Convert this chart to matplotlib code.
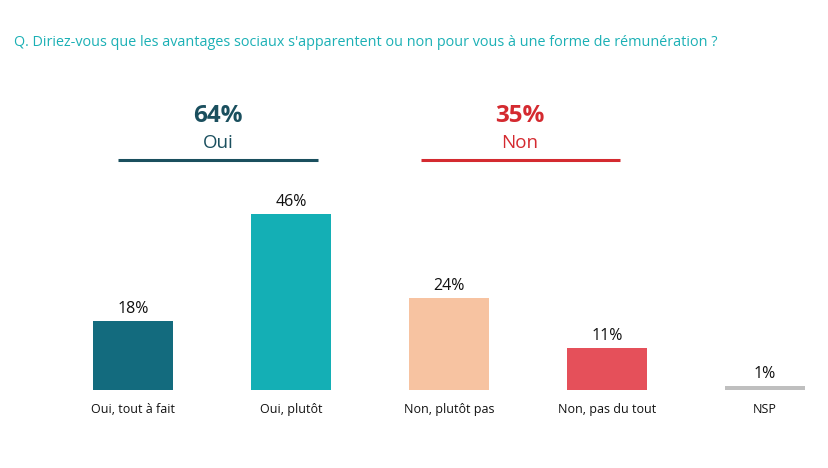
import matplotlib.pyplot as plt
import numpy as np

plt.rcParams['font.family'] = ['Open Sans', 'DejaVu Sans']

categories = ["Oui, tout à fait", "Oui, plutôt", "Non, plutôt pas", "Non, pas du tout", "NSP"]
values = [18, 46, 24, 11, 1]
colors = ["#136B7E", "#14AFB5", "#F7C3A1", "#E5505A", "#BFBFBF"]

groups = ["Oui", "Non"]
group_totals = ["64%", "35%"]
group_colors = ["#1A4F5E", "#D42A30"]
group_spans = [(-0.095, 1.17), (1.82, 3.08)]

title = "Q. Diriez-vous que les avantages sociaux s'apparentent ou non pour vous à une forme de rémunération ?"

W, H = 829, 468
fig = plt.figure(figsize=(W / 100, H / 100), dpi=100)
# bar centres at 133 + 158*i px, baseline at y=390 px from top
step = 158.0
left_px = 133 - step / 2
ax = fig.add_axes([left_px / W, (H - 390) / H, step * 4.9 / W, 230 / H])
ax.set_xlim(-0.5, 4.4)
ax.set_ylim(0, 60)
ax.axis("off")

x = np.arange(len(categories))
ax.bar(x, values, width=80 / step, color=colors)
for xi, v, c in zip(x, values, categories):
    ax.text(xi, v + 1.0, f"{v}%", ha="center", va="bottom", fontsize=11.5, color="#111111")
    ax.text(xi, -3.3, c, ha="center", va="top", fontsize=9, color="#111111", clip_on=False)

for g, tot, col, (a, b) in zip(groups, group_totals, group_colors, group_spans):
    mid = (a + b) / 2
    ax.text(mid, 71.5, tot, ha="center", va="center", fontsize=17.5, fontweight="bold",
            color=col, clip_on=False)
    ax.text(mid, 64.5, g, ha="center", va="center", fontsize=13.5, color=col, clip_on=False)
    ax.plot([a, b], [60.0, 60.0], color=col, lw=2.2, clip_on=False, solid_capstyle="butt")

fig.text(14 / W, 1 - 42 / H, title, ha="left", va="center", fontsize=10.4, color="#1BB0B5")

fig.savefig("out.png", dpi=100)
